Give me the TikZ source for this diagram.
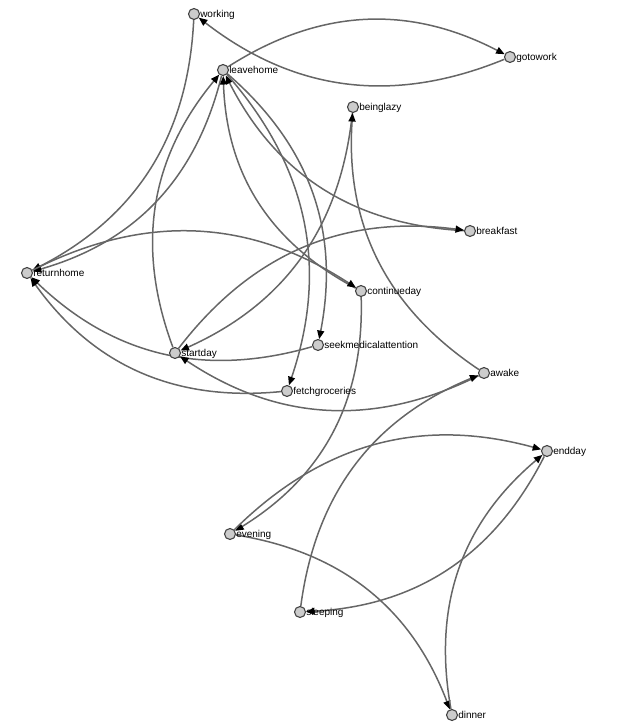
\documentclass[tikz,border=0pt]{standalone}
\usepackage{fontspec}
\setmainfont{Liberation Sans}
\usepackage{tikz}
\usetikzlibrary{arrows.meta}
\definecolor{edgegrey}{HTML}{666666}
\definecolor{nodegrey}{HTML}{CCCCCC}
\definecolor{rimgrey}{HTML}{444444}
\tikzset{
    state/.style={circle, fill=nodegrey, draw=rimgrey, line width=1.1pt,
    	minimum size=11pt, inner sep=0pt, label distance=2pt}
}
\tikzset{
    every label/.style={font=\fontsize{10}{12}\selectfont, inner sep=0pt,
    	text height=7pt, text depth=0pt}
}
\tikzset{
    every edge/.append style={line width=1.5pt, draw=edgegrey, bend left=30,
    	-{Triangle[length=8.5pt, width=7pt, color=black]}}
}
\pgfdeclarelayer{background}
\pgfsetlayers{background,main}

\begin{document}
\begin{tikzpicture}[x=1pt, y=1pt]
	\useasboundingbox (0,0) rectangle (621,-727);
	\node (working) [state, label=right:{working}] at (194, -14) {};
	\node (gotowork) [state, label=right:{gotowork}] at (510, -57) {};
	\node (leavehome) [state, label=right:{leavehome}] at (223, -70) {};
	\node (beinglazy) [state, label=right:{beinglazy}] at (353, -107) {};
	\node (breakfast) [state, label=right:{breakfast}] at (470, -231) {};
	\node (returnhome) [state, label=right:{returnhome}] at (27, -273) {};
	\node (continueday) [state, label=right:{continueday}] at (361, -291) {};
	\node (seekmed) [state, label=right:{seekmedicalattention}] at (318, -345) {};
	\node (startday) [state, label=right:{startday}] at (175, -353) {};
	\node (fetchgroceries) [state, label=right:{fetchgroceries}] at (287, -391) {};
	\node (awake) [state, label=right:{awake}] at (484, -373) {};
	\node (endday) [state, label=right:{endday}] at (547, -451) {};
	\node (evening) [state, label=right:{evening}] at (230, -534) {};
	\node (sleeping) [state, label=right:{sleeping}] at (300, -612) {};
	\node (dinner) [state, label=right:{dinner}] at (452, -715) {};

	\begin{pgfonlayer}{background}
	\draw (leavehome) edge (gotowork); \draw (gotowork) edge (working);
	\draw (working) edge (returnhome); \draw (leavehome) edge (returnhome);
	\draw (startday) edge (leavehome); \draw (continueday) edge (leavehome);
	\draw (breakfast) edge (leavehome);
	\draw (leavehome) edge (seekmed); \draw (leavehome) edge (fetchgroceries);
	\draw (returnhome) edge (continueday);
	\draw (seekmed) edge (returnhome); \draw (fetchgroceries) edge (returnhome);
	\draw (startday) edge (breakfast); \draw (beinglazy) edge (startday);
	\draw (awake) edge (beinglazy); \draw (awake) edge (startday);
	\draw (sleeping) edge (awake);
	\draw (continueday) edge (evening);
	\draw (evening) edge (endday); \draw (evening) edge (dinner);
	\draw (dinner) edge (endday); \draw (endday) edge (sleeping);
	\end{pgfonlayer}
\end{tikzpicture}
\end{document}
